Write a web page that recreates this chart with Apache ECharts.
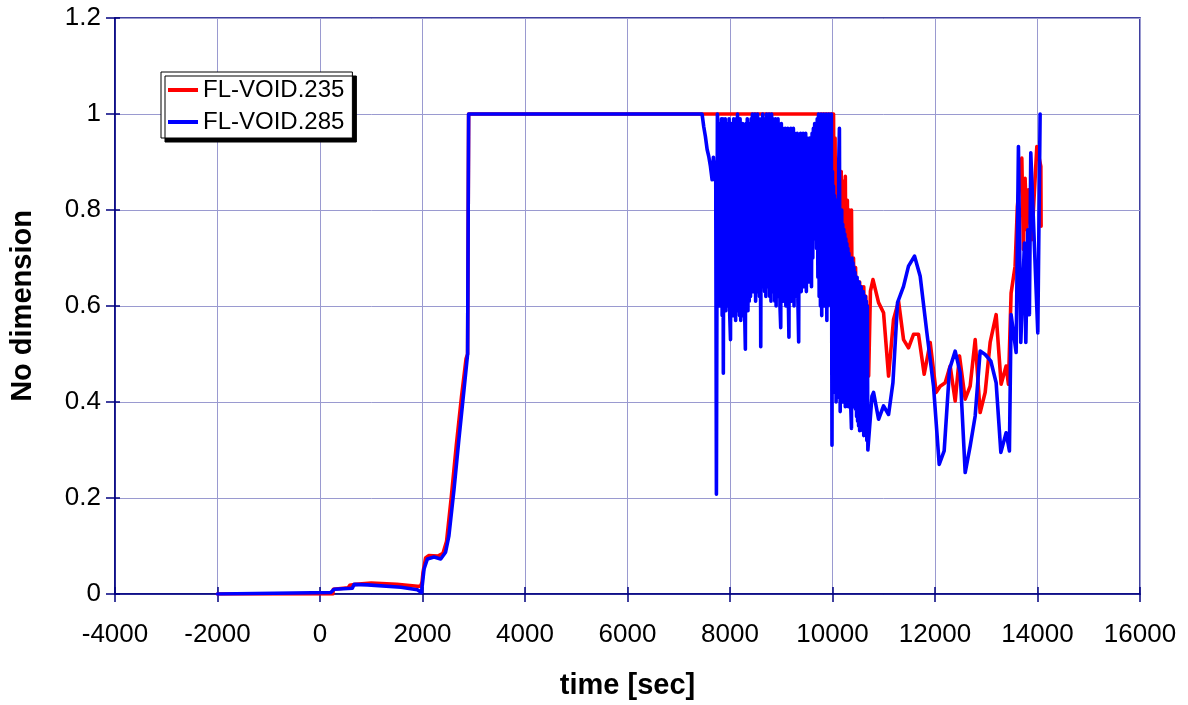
<!DOCTYPE html>
<html>
<head>
<meta charset="utf-8">
<script src="https://cdn.jsdelivr.net/npm/echarts@6/dist/echarts.min.js"></script>
<style>
  html, body { margin: 0; padding: 0; background: #ffffff; }
  #chart { width: 1188px; height: 705px; }
</style>
</head>
<body>
<div id="chart"></div>
<script>
// Axis ranges and tick spacing
const xMin = -4000, xMax = 16000, xStep = 2000;
const yMin = 0, yMax = 1.2, yStep = 0.2;

const seriesNames = ['FL-VOID.235', 'FL-VOID.285'];

// FL-VOID.235 : [time (s), void fraction]
const void235 = [
  [-2000, 0], [250, 0], [260, 0.010], [550, 0.013], [580, 0.018], [700, 0.020], [720, 0.024],
  [1000, 0.023], [1500, 0.020], [1900, 0.016], [1960, 0.016], [1990, 0.024], [2010, 0.045],
  [2060, 0.075], [2120, 0.080], [2300, 0.079], [2400, 0.085], [2470, 0.11], [2560, 0.20],
  [2660, 0.31], [2760, 0.41], [2850, 0.49], [2880, 0.50], [2900, 1.0], [10020, 1.0],
  [10030, 0.79], [10050, 0.95], [10070, 0.62], [10090, 0.90], [10110, 0.60], [10130, 0.88],
  [10150, 0.55], [10170, 0.88], [10190, 0.58], [10210, 0.86], [10230, 0.55], [10250, 0.87],
  [10270, 0.52], [10290, 0.82], [10310, 0.55], [10330, 0.80], [10350, 0.50], [10370, 0.80],
  [10390, 0.52], [10410, 0.70], [10430, 0.50], [10450, 0.68], [10470, 0.48], [10490, 0.65],
  [10510, 0.50], [10530, 0.65], [10550, 0.48], [10570, 0.64], [10590, 0.50], [10610, 0.64],
  [10630, 0.47], [10650, 0.62], [10670, 0.50], [10690, 0.60], [10705, 0.454], [10740, 0.631],
  [10790, 0.655], [10899, 0.607], [10996, 0.586], [11094, 0.454], [11191, 0.572], [11289, 0.610],
  [11386, 0.530], [11483, 0.513], [11581, 0.541], [11678, 0.541], [11789, 0.458], [11906, 0.524],
  [12023, 0.420], [12101, 0.433], [12199, 0.440], [12296, 0.475], [12394, 0.402], [12478, 0.496],
  [12589, 0.406], [12686, 0.433], [12784, 0.530], [12881, 0.378], [12979, 0.420], [13076, 0.524],
  [13193, 0.582], [13290, 0.437], [13388, 0.475], [13433, 0.437], [13485, 0.627], [13563, 0.683],
  [13608, 0.808], [13694, 0.908], [13725, 0.718], [13758, 0.866], [13791, 0.759], [13822, 0.842],
  [13889, 0.738], [13987, 0.932], [14065, 0.891], [14070, 0.766]
];

// FL-VOID.285 : [time (s), void fraction]
const void285 = [
  [-2000, 0], [210, 0.003], [275, 0.010], [630, 0.012], [665, 0.020], [930, 0.019], [1580, 0.014],
  [1900, 0.009], [1980, 0.003], [2030, 0.052], [2095, 0.073], [2225, 0.077], [2355, 0.073],
  [2450, 0.087], [2515, 0.121], [2615, 0.218], [2710, 0.322], [2810, 0.426], [2880, 0.50],
  [2900, 1.0], [7455, 1.0], [7487, 0.974], [7520, 0.953], [7554, 0.926], [7585, 0.912],
  [7618, 0.891], [7651, 0.863], [7676, 0.91], [7696, 0.863], [7710, 0.90], [7722, 0.86],
  [7735, 0.208], [7754, 1.0],
  [7760, 0.99], [7772, 0.62], [7785, 0.97], [7797, 0.60], [7810, 0.98], [7822, 0.61],
  [7835, 0.99], [7847, 0.58], [7860, 0.99], [7870, 0.46], [7882, 0.98], [7895, 0.60],
  [7907, 0.99], [7920, 0.59], [7932, 0.97], [7945, 0.61], [7957, 0.98], [7970, 0.60],
  [7982, 0.99], [7995, 0.58], [8010, 0.53], [8022, 0.98], [8035, 0.60], [8047, 0.97],
  [8060, 0.58], [8072, 0.99], [8085, 0.59], [8097, 0.98], [8110, 0.57], [8122, 0.99],
  [8135, 0.60], [8147, 1.0], [8160, 0.59], [8172, 0.98], [8185, 0.58], [8197, 0.99],
  [8210, 0.57], [8222, 0.97], [8235, 0.60], [8247, 0.98], [8260, 0.58], [8272, 0.97],
  [8285, 0.59], [8300, 0.51], [8312, 0.98], [8325, 0.60], [8337, 0.99], [8350, 0.59],
  [8362, 0.98], [8375, 0.61], [8387, 0.97], [8400, 0.62], [8412, 0.99], [8425, 0.64],
  [8437, 1.0], [8450, 0.63], [8462, 0.99], [8475, 0.65], [8487, 1.0], [8500, 0.61],
  [8512, 0.99], [8525, 0.64], [8537, 1.0], [8550, 0.63], [8562, 0.99], [8575, 0.62],
  [8587, 0.98], [8600, 0.515], [8612, 0.99], [8625, 0.64], [8637, 1.0], [8650, 0.66],
  [8662, 0.99], [8675, 0.63], [8687, 0.99], [8700, 0.62], [8712, 1.0], [8725, 0.65],
  [8737, 0.99], [8750, 0.64], [8762, 1.0], [8775, 0.62], [8787, 0.99], [8800, 0.61],
  [8812, 1.0], [8825, 0.64], [8837, 0.99], [8850, 0.63], [8862, 0.98], [8875, 0.61],
  [8887, 0.99], [8900, 0.60], [8912, 0.98], [8925, 0.62], [8937, 0.99], [8950, 0.62],
  [8962, 0.97], [8975, 0.60], [8990, 0.555], [9002, 0.98], [9015, 0.61], [9027, 0.97],
  [9040, 0.61], [9052, 0.96], [9065, 0.62], [9077, 0.97], [9090, 0.60], [9102, 0.96],
  [9115, 0.61], [9127, 0.97], [9140, 0.60], [9150, 0.535], [9162, 0.96], [9175, 0.62],
  [9187, 0.97], [9200, 0.61], [9212, 0.96], [9225, 0.62], [9237, 0.97], [9250, 0.60],
  [9262, 0.96], [9275, 0.63], [9287, 0.95], [9300, 0.62], [9312, 0.96], [9325, 0.61],
  [9340, 0.525], [9352, 0.95], [9365, 0.63], [9377, 0.96], [9390, 0.63], [9402, 0.95],
  [9415, 0.64], [9427, 0.96], [9440, 0.65], [9452, 0.95], [9465, 0.64], [9477, 0.96],
  [9490, 0.63], [9502, 0.95], [9515, 0.65], [9527, 0.94], [9540, 0.66], [9552, 0.95],
  [9565, 0.65], [9577, 0.94], [9590, 0.64], [9602, 0.96], [9615, 0.70], [9627, 0.97],
  [9640, 0.76], [9652, 0.98], [9665, 0.74], [9677, 0.97], [9690, 0.72], [9702, 0.99],
  [9715, 0.66], [9727, 1.0], [9740, 0.62], [9752, 0.99], [9765, 0.60], [9777, 1.0],
  [9790, 0.58], [9802, 0.99], [9815, 0.61], [9827, 1.0], [9840, 0.60], [9852, 0.99],
  [9865, 0.62], [9877, 1.0], [9890, 0.57], [9902, 0.99], [9915, 0.60], [9927, 1.0],
  [9940, 0.62], [9952, 0.99], [9965, 0.64], [9977, 1.0], [9990, 0.31],
  [10000, 0.88], [10010, 0.48], [10020, 0.85], [10030, 0.45], [10040, 0.83], [10050, 0.42],
  [10060, 0.80], [10070, 0.40], [10080, 0.82], [10090, 0.43], [10100, 0.78], [10110, 0.41],
  [10122, 0.90], [10135, 0.97], [10150, 0.38], [10160, 0.79], [10170, 0.42], [10180, 0.80],
  [10190, 0.44], [10200, 0.77], [10210, 0.40], [10220, 0.76], [10230, 0.42], [10240, 0.75],
  [10250, 0.39], [10260, 0.74], [10270, 0.44], [10280, 0.73], [10290, 0.41], [10300, 0.72],
  [10310, 0.39], [10320, 0.71], [10330, 0.42], [10340, 0.70], [10350, 0.41], [10370, 0.345],
  [10380, 0.70], [10390, 0.40], [10400, 0.69], [10410, 0.39], [10420, 0.68], [10430, 0.40],
  [10440, 0.67], [10450, 0.385], [10460, 0.66], [10470, 0.37], [10480, 0.66], [10490, 0.36],
  [10500, 0.65], [10510, 0.35], [10520, 0.65], [10530, 0.34], [10540, 0.64], [10550, 0.36],
  [10560, 0.64], [10570, 0.37], [10580, 0.63], [10590, 0.34], [10600, 0.63], [10610, 0.33],
  [10620, 0.62], [10630, 0.35], [10640, 0.62], [10650, 0.34], [10660, 0.61], [10670, 0.32],
  [10680, 0.60], [10690, 0.30], [10704, 0.298],
  [10770, 0.412], [10801, 0.42], [10899, 0.364], [10996, 0.392], [11094, 0.374], [11179, 0.44],
  [11269, 0.607], [11386, 0.641], [11483, 0.683], [11600, 0.704], [11711, 0.662], [11842, 0.544],
  [11971, 0.433], [12082, 0.27], [12179, 0.298], [12283, 0.468], [12394, 0.506], [12491, 0.461],
  [12589, 0.253], [12686, 0.308], [12784, 0.371], [12881, 0.506], [12979, 0.499], [13090, 0.485],
  [13193, 0.44], [13285, 0.295], [13388, 0.336], [13452, 0.298], [13485, 0.582], [13583, 0.503],
  [13628, 0.932], [13674, 0.524], [13713, 0.527], [13745, 0.731], [13772, 0.524], [13811, 0.759],
  [13842, 0.582], [13869, 0.919], [14006, 0.544], [14051, 1.0]
];

const FONT = "'Liberation Sans', Arial, sans-serif";
const NAVY = '#000080';
const GRID_LINE = '#9a9ad0';
const LINE_W = 3.6;

const chart = echarts.init(document.getElementById('chart'), null, { renderer: 'canvas' });

chart.setOption({
  backgroundColor: '#ffffff',
  animation: false,
  grid: {
    left: 114, right: 48, top: 18, bottom: 110,
    show: true, borderColor: NAVY, borderWidth: 1.5, backgroundColor: 'transparent'
  },
  legend: {
    orient: 'vertical',
    left: 161, top: 72,
    padding: [6, 8, 4, 7],
    itemGap: 8,
    itemWidth: 30, itemHeight: 4,
    icon: 'rect',
    backgroundColor: '#ffffff',
    borderColor: '#000000', borderWidth: 1,
    shadowColor: '#000000', shadowBlur: 0, shadowOffsetX: 4, shadowOffsetY: 4,
    textStyle: { fontFamily: FONT, fontSize: 24, color: '#000000' },
    data: seriesNames
  },
  xAxis: [{
    type: 'value', min: xMin, max: xMax, interval: xStep,
    name: 'time [sec]', nameLocation: 'middle', nameGap: 77,
    nameTextStyle: { fontFamily: FONT, fontSize: 29, fontWeight: 'bold', color: '#000000' },
    axisLine: { show: true, onZero: false, lineStyle: { color: NAVY, width: 1.5 } },
    axisTick: { show: true, length: 8, lineStyle: { color: NAVY, width: 1.5 } },
    axisLabel: { fontFamily: FONT, fontSize: 26, color: '#000000', margin: 28,
                 formatter: (v) => String(v) },
    splitLine: { show: true, lineStyle: { color: GRID_LINE, width: 1 } }
  }, {
    // inner half of the crossing tick marks
    type: 'value', min: xMin, max: xMax, interval: xStep, position: 'bottom',
    axisLine: { show: false, onZero: false },
    axisTick: { show: true, inside: true, length: 7, lineStyle: { color: NAVY, width: 1.5 } },
    axisLabel: { show: false }, splitLine: { show: false }
  }],
  yAxis: [{
    type: 'value', min: yMin, max: yMax, interval: yStep,
    name: 'No dimension', nameLocation: 'middle', nameGap: 78, nameRotate: 90,
    nameTextStyle: { fontFamily: FONT, fontSize: 29, fontWeight: 'bold', color: '#000000' },
    axisLine: { show: true, onZero: false, lineStyle: { color: NAVY, width: 1.5 } },
    axisTick: { show: true, length: 9, lineStyle: { color: NAVY, width: 1.5 } },
    axisLabel: { fontFamily: FONT, fontSize: 26, color: '#000000', margin: 14 },
    splitLine: { show: true, lineStyle: { color: GRID_LINE, width: 1 } }
  }, {
    type: 'value', min: yMin, max: yMax, interval: yStep, position: 'left',
    axisLine: { show: false, onZero: false },
    axisTick: { show: true, inside: true, length: 5, lineStyle: { color: NAVY, width: 1.5 } },
    axisLabel: { show: false }, splitLine: { show: false }
  }],
  series: [{
    name: seriesNames[0], type: 'line', data: void235,
    showSymbol: false, symbol: 'none',
    lineStyle: { color: '#ff0000', width: LINE_W, join: 'round', cap: 'round' },
    itemStyle: { color: '#ff0000' }, z: 2
  }, {
    name: seriesNames[1], type: 'line', data: void285,
    showSymbol: false, symbol: 'none',
    lineStyle: { color: '#0000ff', width: LINE_W, join: 'round', cap: 'round' },
    itemStyle: { color: '#0000ff' }, z: 3
  }]
});
</script>
</body>
</html>
